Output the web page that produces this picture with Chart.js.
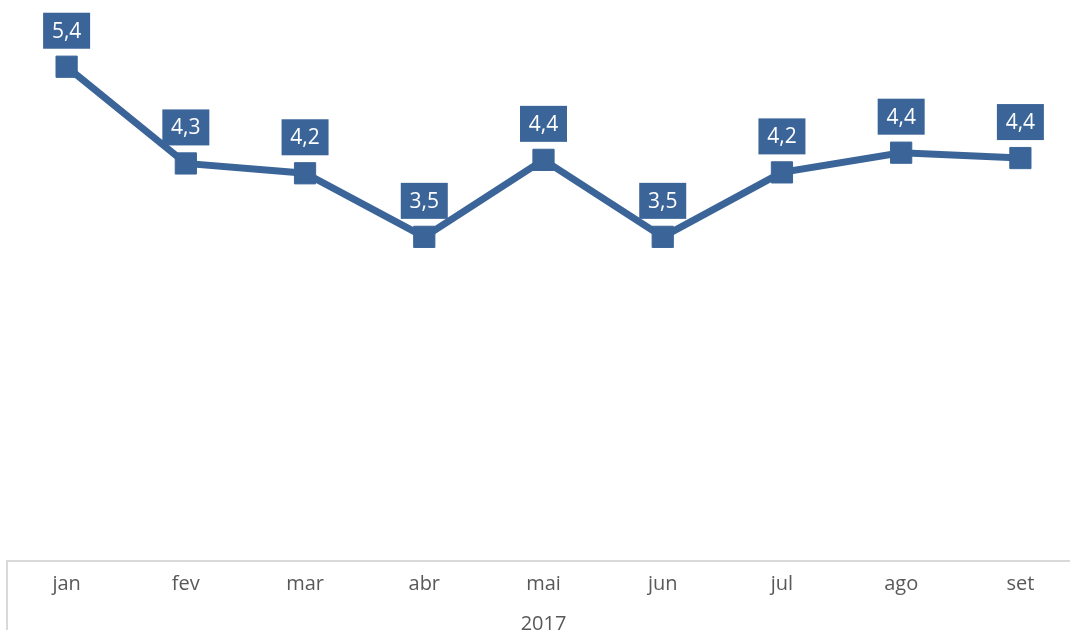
<!DOCTYPE html>
<html>
<head>
<meta charset="utf-8">
<style>
html,body{margin:0;padding:0;background:#fff;overflow:hidden;width:1070px;height:630px;}
#wrap{position:absolute;left:0;top:0;width:1080px;height:640px;}
</style>
<script src="https://cdn.jsdelivr.net/npm/chart.js@4.4.1/dist/chart.umd.min.js"></script>
</head>
<body>
<div id="wrap"><canvas id="c" width="1080" height="640"></canvas></div>
<script>
const categories = ['jan','fev','mar','abr','mai','jun','jul','ago','set'];
const values = [5.4, 4.32, 4.21, 3.50, 4.36, 3.50, 4.22, 4.44, 4.38];
const groupLabel = '2017';

const BLUE = '#3b6598';
const FONT = '"Open Sans", Lato, sans-serif';

const labelPlugin = {
  id: 'boxLabels',
  afterDatasetsDraw(chart) {
    const ctx = chart.ctx;
    const meta = chart.getDatasetMeta(0);
    ctx.save();
    ctx.font = '21px ' + FONT;
    ctx.textAlign = 'center';
    ctx.textBaseline = 'middle';
    meta.data.forEach((pt, i) => {
      const txt = values[i].toFixed(1).replace('.', ',');
      const w = 47, h = 36;
      const cx = pt.x, cy = pt.y - 36;
      ctx.fillStyle = BLUE;
      ctx.fillRect(cx - w / 2, cy - h / 2, w, h);
      ctx.fillStyle = '#ffffff';
      ctx.fillText(txt, cx, cy + 1);
    });
    ctx.restore();
  },
  afterDraw(chart) {
    const ctx = chart.ctx;
    const a = chart.chartArea;
    ctx.save();
    ctx.strokeStyle = '#d9d9d9';
    ctx.lineWidth = 2;
    ctx.beginPath();
    ctx.moveTo(a.left, a.bottom);
    ctx.lineTo(a.left, chart.height);
    ctx.stroke();
    ctx.restore();
  }
};

new Chart(document.getElementById('c'), {
  type: 'line',
  data: {
    labels: categories,
    datasets: [{
      data: values,
      borderColor: BLUE,
      backgroundColor: BLUE,
      borderWidth: 7,
      pointStyle: 'rect',
      pointRadius: 15,
      pointBorderWidth: 1,
      pointBackgroundColor: BLUE,
      pointBorderColor: BLUE,
      tension: 0,
      fill: false,
      clip: false
    }]
  },
  options: {
    responsive: false,
    animation: false,
    devicePixelRatio: 1,
    layout: { autoPadding: false, padding: { left: 7, right: 0, top: 13, bottom: 0 } },
    plugins: { legend: { display: false }, tooltip: { enabled: false } },
    scales: {
      y: {
        display: false,
        min: -0.12,
        max: 6.0
      },
      x: {
        offset: true,
        grid: { display: false, drawTicks: false },
        border: { display: true, color: '#d9d9d9', width: 2 },
        ticks: { color: '#595959', font: { family: FONT, size: 20 }, padding: 11 },
        title: { display: true, text: groupLabel, color: '#595959', font: { family: FONT, size: 20 }, padding: { top: 6, bottom: 4 } },
        afterFit(scale) { scale.height = 79; scale.paddingLeft = 0; scale.paddingRight = 0; }
      }
    }
  },
  plugins: [labelPlugin]
});
</script>
</body>
</html>
